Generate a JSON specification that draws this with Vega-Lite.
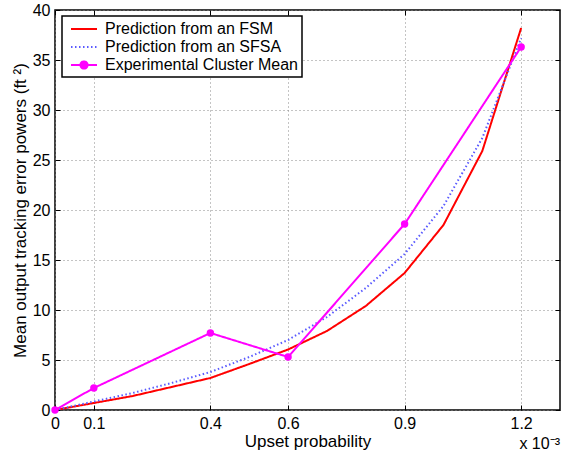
{
  "$schema": "https://vega.github.io/schema/vega-lite/v6.json",
  "width": 505,
  "height": 400,
  "autosize": "none",
  "padding": {"left": 55, "top": 10, "right": 3, "bottom": 41},
  "background": "white",
  "config": {
    "view": {"stroke": "black", "strokeWidth": 1.5},
    "font": "Liberation Sans",
    "axis": {
      "labelFont": "Liberation Sans",
      "titleFont": "Liberation Sans",
      "labelFontSize": 16,
      "titleFontSize": 17,
      "titleFontWeight": "normal",
      "labelColor": "black",
      "titleColor": "black",
      "domain": false,
      "tickColor": "black",
      "tickSize": -5,
      "gridColor": "#888888",
      "gridDash": [1, 3],
      "gridOpacity": 1
    }
  },
  "data": {"values": [
    {"series": "Prediction from an FSM", "x": 0, "y": 0},
    {"series": "Prediction from an FSM", "x": 0.1, "y": 0.7},
    {"series": "Prediction from an FSM", "x": 0.2, "y": 1.4},
    {"series": "Prediction from an FSM", "x": 0.3, "y": 2.3},
    {"series": "Prediction from an FSM", "x": 0.4, "y": 3.2},
    {"series": "Prediction from an FSM", "x": 0.5, "y": 4.6},
    {"series": "Prediction from an FSM", "x": 0.6, "y": 6.05},
    {"series": "Prediction from an FSM", "x": 0.7, "y": 7.9},
    {"series": "Prediction from an FSM", "x": 0.8, "y": 10.4},
    {"series": "Prediction from an FSM", "x": 0.9, "y": 13.7},
    {"series": "Prediction from an FSM", "x": 1.0, "y": 18.5},
    {"series": "Prediction from an FSM", "x": 1.1, "y": 25.9},
    {"series": "Prediction from an FSM", "x": 1.2, "y": 38.2},
    {"series": "Prediction from an SFSA", "x": 0, "y": 0},
    {"series": "Prediction from an SFSA", "x": 0.1, "y": 0.85},
    {"series": "Prediction from an SFSA", "x": 0.2, "y": 1.7},
    {"series": "Prediction from an SFSA", "x": 0.3, "y": 2.7},
    {"series": "Prediction from an SFSA", "x": 0.4, "y": 3.8},
    {"series": "Prediction from an SFSA", "x": 0.5, "y": 5.3},
    {"series": "Prediction from an SFSA", "x": 0.6, "y": 7.0},
    {"series": "Prediction from an SFSA", "x": 0.7, "y": 9.3},
    {"series": "Prediction from an SFSA", "x": 0.8, "y": 12.2},
    {"series": "Prediction from an SFSA", "x": 0.9, "y": 15.6},
    {"series": "Prediction from an SFSA", "x": 1.0, "y": 20.4},
    {"series": "Prediction from an SFSA", "x": 1.1, "y": 27.2},
    {"series": "Prediction from an SFSA", "x": 1.2, "y": 37.2},
    {"series": "Experimental Cluster Mean", "x": 0, "y": 0},
    {"series": "Experimental Cluster Mean", "x": 0.1, "y": 2.2},
    {"series": "Experimental Cluster Mean", "x": 0.4, "y": 7.7},
    {"series": "Experimental Cluster Mean", "x": 0.6, "y": 5.3},
    {"series": "Experimental Cluster Mean", "x": 0.9, "y": 18.6},
    {"series": "Experimental Cluster Mean", "x": 1.2, "y": 36.3}
  ]},
  "resolve": {"axis": {"x": "independent", "y": "independent"}},
  "layer": [
    {
      "mark": {"type": "line", "strokeWidth": 2, "clip": true},
      "encoding": {
        "x": {
          "field": "x", "type": "quantitative",
          "scale": {"domain": [0, 1.3], "nice": false, "zero": false},
          "axis": {"values": [0, 0.1, 0.4, 0.6, 0.9, 1.2], "format": "~g", "title": "Upset probability", "labelPadding": 10, "titlePadding": 2, "labelFlush": false, "labelOverlap": false}
        },
        "y": {
          "field": "y", "type": "quantitative",
          "scale": {"domain": [0, 40], "nice": false},
          "axis": {"values": [0, 5, 10, 15, 20, 25, 30, 35, 40], "title": "Mean output tracking error powers (ft ²)", "labelPadding": 10, "titlePadding": 3, "labelFlush": false}
        },
        "color": {
          "field": "series", "type": "nominal",
          "scale": {"domain": ["Prediction from an FSM", "Prediction from an SFSA", "Experimental Cluster Mean"], "range": ["#ff0000", "#5a5aff", "#ff00ff"]},
          "legend": {
            "orient": "none", "legendX": 7, "legendY": 6,
            "title": null,
            "strokeColor": "black", "fillColor": "white", "padding": 4,
            "labelFont": "Liberation Sans", "labelFontSize": 16, "labelColor": "black", "labelLimit": 400,
            "symbolSize": 256, "rowPadding": 1, "labelOffset": 12, "symbolOffset": 9,
            "symbolStrokeWidth": 2, "symbolOpacity": 1,
            "encode": {
              "legend": {"update": {"strokeWidth": {"value": 1.5}}},
              "symbols": {"update": {
                "shape": {"signal": "datum.value === 'Experimental Cluster Mean' ? 'M-1.625,0L1.625,0M0.45,0A0.45,0.45 0 1,1 -0.45,0A0.45,0.45 0 1,1 0.45,0' : 'M-1.625,0L1.625,0'"},
                "fill": {"signal": "datum.value === 'Experimental Cluster Mean' ? '#ff00ff' : 'transparent'"},
                "strokeDash": {"signal": "datum.value === 'Prediction from an SFSA' ? [1.5, 2.5] : []"}
              }}
            }
          }
        },
        "strokeDash": {
          "field": "series", "type": "nominal",
          "scale": {"domain": ["Prediction from an FSM", "Prediction from an SFSA", "Experimental Cluster Mean"], "range": [[1, 0], [1.5, 2.5], [1, 0]]},
          "legend": null
        },
        "order": {"field": "x", "type": "quantitative"}
      }
    },
    {
      "transform": [{"filter": "datum.series === 'Experimental Cluster Mean'"}],
      "mark": {"type": "point", "filled": true, "opacity": 1, "size": 55, "color": "#ff00ff"},
      "encoding": {
        "x": {"field": "x", "type": "quantitative", "axis": {"orient": "top", "values": [0, 0.1, 0.4, 0.6, 0.9, 1.2], "labels": false, "title": null, "grid": false}},
        "y": {"field": "y", "type": "quantitative", "axis": {"orient": "right", "values": [0, 5, 10, 15, 20, 25, 30, 35, 40], "labels": false, "title": null, "grid": false}}
      }
    },
    {
      "data": {"values": [{"label": "x 10⁻³"}]},
      "mark": {"type": "text", "align": "right", "baseline": "middle", "fontSize": 16, "font": "Liberation Sans", "color": "black"},
      "encoding": {
        "x": {"datum": 1.3, "axis": null},
        "y": {"datum": -3.4, "axis": null},
        "text": {"field": "label"}
      }
    }
  ]
}
